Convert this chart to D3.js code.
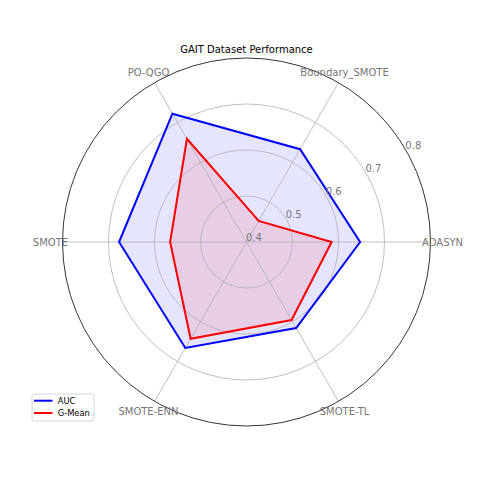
<!DOCTYPE html>
<html>
<head>
<meta charset="utf-8">
<script src="https://cdn.jsdelivr.net/npm/d3@7"></script>
<style>
  body { margin: 0; background: #fff; }
  text { font-family: "DejaVu Sans", sans-serif; }
</style>
</head>
<body>
<div id="chart"></div>
<script>
var categories = ['ADASYN', 'Boundary_SMOTE', 'PO-QGO', 'SMOTE', 'SMOTE-ENN', 'SMOTE-TL'];
var aucValues = [0.647, 0.633, 0.722, 0.677, 0.666, 0.616];
var gmeanValues = [0.585, 0.453, 0.659, 0.566, 0.643, 0.596];
var rTicks = [0.4, 0.5, 0.6, 0.7, 0.8];
var seriesNames = ['AUC', 'G-Mean'];
var seriesColors = ['blue', 'red'];

var width = 480, height = 480;
var cx = 246.5, cy = 242;
var rMax = 184;

var svg = d3.select('#chart').append('svg')
    .attr('width', width)
    .attr('height', height);

var rScale = d3.scaleLinear().domain([0.4, 0.8]).range([0, rMax]);
// d3 angles go clockwise from 12 o'clock, the chart goes counterclockwise from 3 o'clock
var angle = function(i){ return Math.PI / 2 - i * 2 * Math.PI / categories.length; };
var px = function(i, r){ return cx + r * Math.sin(angle(i)); };
var py = function(i, r){ return cy - r * Math.cos(angle(i)); };

var g = svg.append('g').attr('transform', 'translate(' + cx + ',' + cy + ')');

var radar = d3.lineRadial()
    .angle(function(d, i){ return angle(i); })
    .radius(function(d){ return rScale(d); })
    .curve(d3.curveLinearClosed);

var allSeries = [aucValues, gmeanValues];

// fills
g.selectAll('.fill').data(allSeries).enter().append('path')
    .attr('class', 'fill')
    .attr('d', radar)
    .style('fill', function(d, i){ return seriesColors[i]; })
    .style('fill-opacity', 0.1)
    .style('stroke', 'none');

// grid circles
g.selectAll('.gridc').data(rTicks.slice(1, -1)).enter().append('circle')
    .attr('class', 'gridc')
    .attr('r', function(d){ return rScale(d); })
    .style('fill', 'none')
    .style('stroke', '#b0b0b0')
    .style('stroke-width', 0.8);

// spokes
g.selectAll('.spoke').data(categories).enter().append('line')
    .attr('class', 'spoke')
    .attr('x1', 0).attr('y1', 0)
    .attr('x2', function(d, i){ return rMax * Math.sin(angle(i)); })
    .attr('y2', function(d, i){ return -rMax * Math.cos(angle(i)); })
    .style('stroke', '#b0b0b0')
    .style('stroke-width', 0.8);

// outline
g.append('circle')
    .attr('r', rMax)
    .style('fill', 'none')
    .style('stroke', 'black')
    .style('stroke-width', 0.8);

// series lines
g.selectAll('.line').data(allSeries).enter().append('path')
    .attr('class', 'line')
    .attr('d', radar)
    .style('fill', 'none')
    .style('stroke', function(d, i){ return seriesColors[i]; })
    .style('stroke-width', 2)
    .style('stroke-linejoin', 'miter');

// radial tick labels at 30 degrees
var labAng = 30 * Math.PI / 180;
svg.selectAll('.rlab').data(rTicks).enter().append('text')
    .attr('class', 'rlab')
    .attr('x', function(d){ return cx + rScale(d) * Math.cos(labAng) - 0.5; })
    .attr('y', function(d){ return cy - rScale(d) * Math.sin(labAng) - 1.5; })
    .style('font-size', '10px')
    .style('fill', '#777')
    .text(function(d){ return d.toFixed(1); });

// category labels
svg.selectAll('.clab').data(categories).enter().append('text')
    .attr('class', 'clab')
    .attr('x', function(d, i){ return px(i, 196); })
    .attr('y', function(d, i){ return py(i, 196); })
    .attr('text-anchor', 'middle')
    .attr('dominant-baseline', 'central')
    .style('font-size', '10px')
    .style('fill', '#777')
    .text(function(d){ return d; });

// title
svg.append('text')
    .attr('x', cx)
    .attr('y', 52.5)
    .attr('text-anchor', 'middle')
    .style('font-size', '10px')
    .style('fill', 'black')
    .text('GAIT Dataset Performance');

// legend
var legend = svg.append('g').attr('transform', 'translate(32,394)');
legend.append('rect')
    .attr('width', 62).attr('height', 27)
    .attr('rx', 2)
    .style('fill', 'white')
    .style('fill-opacity', 0.8)
    .style('stroke', '#cccccc')
    .style('stroke-width', 0.8);
var items = legend.selectAll('.item').data(seriesNames).enter().append('g')
    .attr('class', 'item')
    .attr('transform', function(d, i){ return 'translate(0,' + (6.7 + i * 12.3) + ')'; });
items.append('line')
    .attr('x1', 2).attr('x2', 20.5)
    .style('stroke', function(d, i){ return seriesColors[i]; })
    .style('stroke-width', 2);
items.append('text')
    .attr('x', 25.7)
    .attr('y', 3)
    .style('font-size', '8.33px')
    .style('fill', 'black')
    .text(function(d){ return d; });
</script>
</body>
</html>
